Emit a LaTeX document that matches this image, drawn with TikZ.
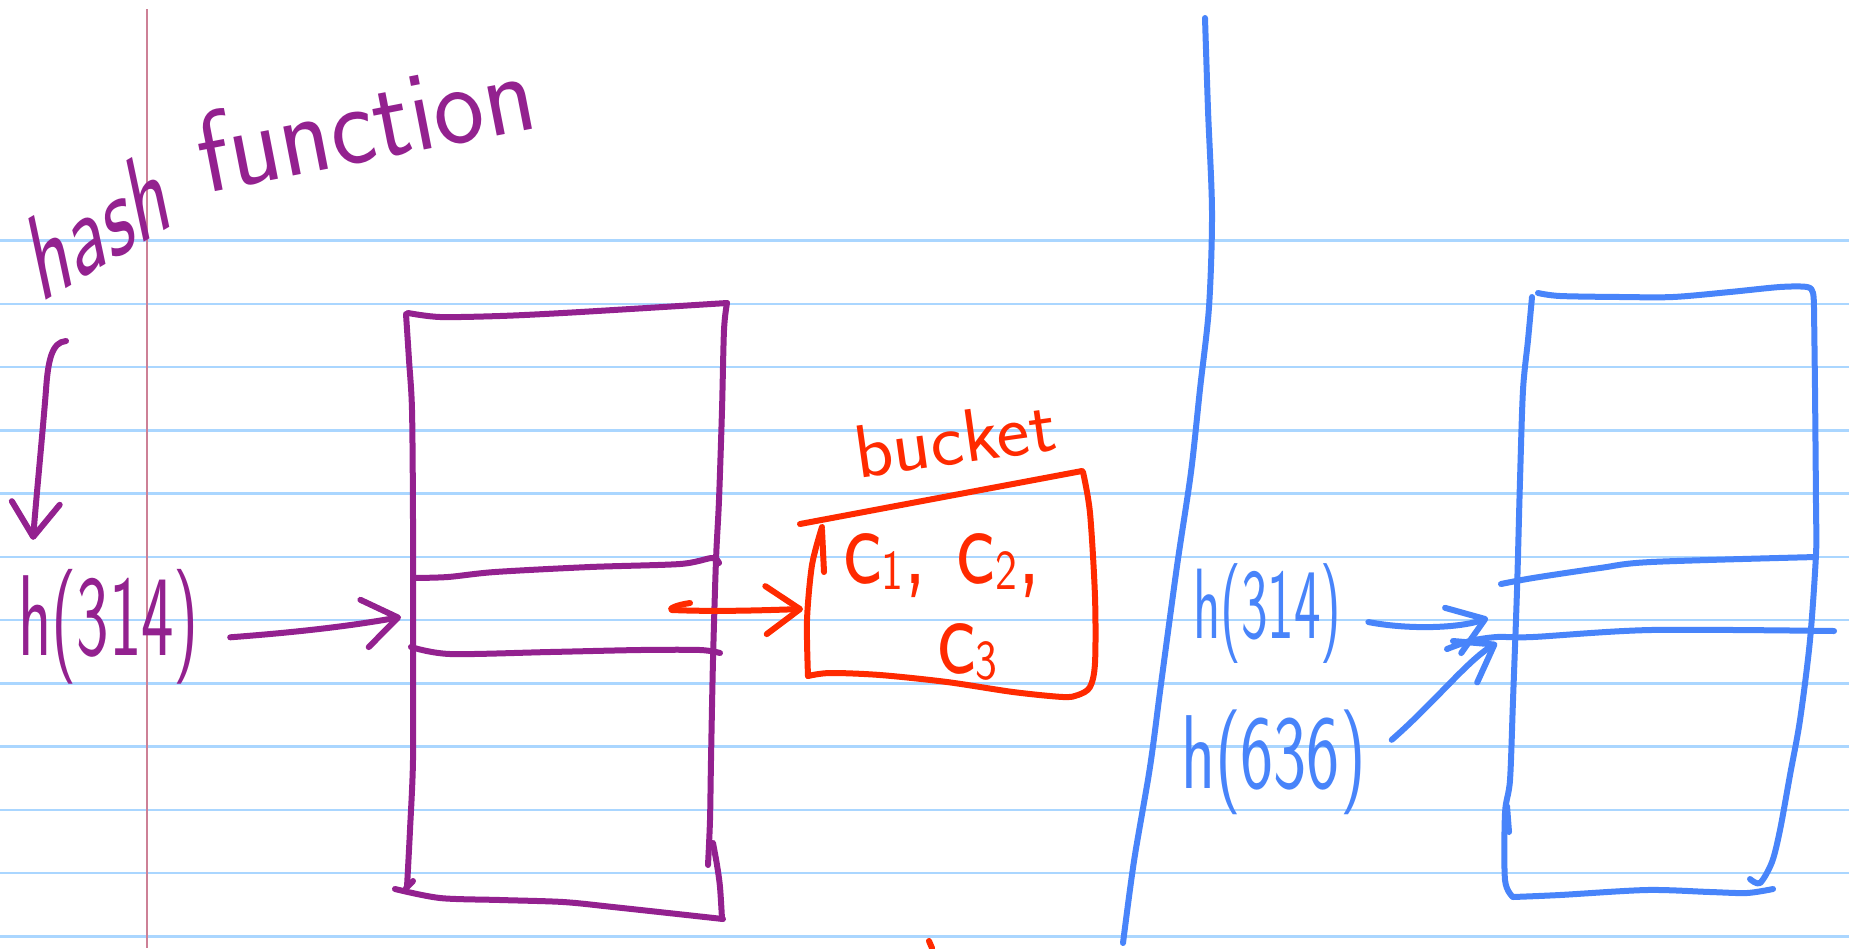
\documentclass[tikz,border=0pt]{standalone}
\usepackage{graphicx}
\usetikzlibrary{arrows.meta,calc}
\definecolor{purp}{RGB}{147,33,143}
\definecolor{penred}{RGB}{255,42,0}
\definecolor{penblue}{RGB}{72,132,250}
\definecolor{ruled}{RGB}{170,214,255}
\definecolor{marginpink}{RGB}{205,128,150}
\newcommand\subdig[1]{\raisebox{-0.06em}{\scalebox{0.5}{#1}}}
\newcommand\fsz[1]{\fontsize{#1}{#1}\selectfont}
\begin{document}
\begin{tikzpicture}[x=1pt,y=-1pt,
  pen/.style={line width=6pt,line cap=round,line join=round},
  handarrow/.style={-{Straight Barb[length=34pt,width=48pt,round]}},
  lbl/.style={inner sep=0pt,outer sep=0pt,font=\sffamily},
  sm/.style={smooth,tension=0.5}]
\fill[white] (0,0) rectangle (1849,948);
\useasboundingbox (0,0) rectangle (1849,948);
% ruled paper
\foreach \k in {0,...,11}
  \draw[ruled,line width=2.6pt] (0,{240.6+63.25*\k}) -- (1849,{240.6+63.25*\k});
\draw[marginpink,line width=2pt] (146.5,9) -- (146.5,948);

% ---------- purple table ----------
\draw[pen,purp] plot[sm] coordinates {(408,313) (440,317) (500,316) (563,313) (663,307) (727,303)};
\draw[pen,purp] plot[sm] coordinates {(406,314) (409,360) (412,410) (413,520) (413,650) (413,760) (410,830) (407,887)};
\draw[pen,purp] (406,888) -- (413,881);
\draw[pen,purp] plot[sm] coordinates {(395,889) (440,898) (500,900) (563,902) (613,907) (723,919)};
\draw[pen,purp] plot[sm] coordinates {(727,303) (724,330) (722,410) (719,500) (716,560) (713,660) (711,760) (710,820) (708,865)};
\draw[pen,purp] plot[sm] coordinates {(713,843) (717,865) (720,887) (722,919)};
\draw[pen,purp] plot[sm] coordinates {(413,578) (448,577) (495,572) (590,567) (680,564) (712,558) (719,563)};
\draw[pen,purp] plot[sm] coordinates {(411,647) (450,654) (550,652) (640,650) (700,650) (720,653)};

% ---------- red bucket box ----------
\draw[pen,penred] (800,524) -- (1082,471);
\draw[pen,penred] plot[sm] coordinates {(1083,472) (1090,513) (1095,597) (1095,663) (1090,687) (1078,695) (1063,697) (1013,692) (947,682) (880,675) (830,673) (808,676)};
\draw[pen,penred] plot[sm] coordinates {(808,676) (807,620) (812,565) (822,527)};
\draw[pen,penred] (822,530) -- (824,572);
\draw[pen,penred] (929,941) -- (932,948);

% ---------- blue divider ----------
\draw[pen,penblue] plot[sm] coordinates {(1205,18) (1208,110) (1212,212) (1209,307) (1200,389) (1191,472) (1177,566) (1161,684) (1150,767) (1134,861) (1123,943)};

% ---------- blue table ----------
\draw[pen,penblue] plot[sm] coordinates {(1538,293) (1560,296) (1620,297) (1673,297) (1730,292) (1780,287) (1807,287) (1813,293) (1814,310)};
\draw[pen,penblue] plot[sm] coordinates {(1814,310) (1815,390) (1816,507) (1816,554) (1810,640) (1800,720) (1790,775) (1780,830) (1772,862) (1760,883) (1750,879)};
\draw[pen,penblue] plot[sm] coordinates {(1532,297) (1528,340) (1523,390) (1520,480) (1517,590) (1513,700) (1510,780) (1505,813) (1505,880) (1513,897)};
\draw[pen,penblue] (1507,806) -- (1509,832);
\draw[pen,penblue] plot[sm] coordinates {(1513,897) (1560,895) (1647,890) (1710,892) (1747,893) (1773,889)};
\draw[pen,penblue] plot[sm] coordinates {(1501,584) (1533,578) (1600,568) (1651,562) (1816,557)};
\draw[pen,penblue] plot[sm] coordinates {(1447,649) (1470,641) (1497,637) (1533,637) (1651,630) (1834,631)};

% ---------- labels ----------
\node[lbl,text=purp,anchor=base west,rotate=12,yslant=0.33] (hf1) at (40,303) {\fsz{120}\scalebox{0.7}[1]{hash}};
\node[lbl,text=purp,anchor=base west,rotate=11] (hf2) at (205,193) {\fsz{115}\scalebox{0.93}[1]{function}};
\node[lbl,text=purp,anchor=base west] (hp) at (18,655) {\fsz{115}\scalebox{0.6}[1]{h(314)}};
\node[lbl,text=penred,anchor=base west,rotate=8] (bk) at (858,478) {\fsz{75}\scalebox{1.05}[1]{bucket}};
\node[lbl,text=penred,anchor=base west] (cl1) at (843,583) {\fsz{113}\scalebox{0.82}[1]{c\subdig{1}, c\subdig{2},}};
\node[lbl,text=penred,anchor=base west] (cl2) at (937,673) {\fsz{113}\scalebox{0.82}[1]{c\subdig{3}}};
\node[lbl,text=penblue,anchor=base west] (hb1) at (1193,638) {\fsz{100}\scalebox{0.565}[1]{h(314)}};
\node[lbl,text=penblue,anchor=base west] (hb2) at (1181,788) {\fsz{105}\scalebox{0.67}[1]{h(636)}};

% ---------- connector ends ----------
\coordinate (hfout) at (66,341);
\coordinate (prow) at (401,617);
\coordinate (ptabout) at (672,610);
\coordinate (rbox) at (803,609);
\coordinate (brow1) at (1488,618);
\coordinate (brow2) at (1497,643);

% ---------- connectors ----------
\draw[pen,purp,handarrow] (hfout) .. controls (52,342) and (48,360) .. (46,390) .. controls (42,440) and (36,500) .. ([xshift=15pt,yshift=29pt]hp.north west);
\draw[pen,purp,handarrow] ([xshift=31pt,yshift=-11pt]hp.east) .. controls (300,632) and (350,626) .. (prow);
\draw[pen,penred] (690,603) .. controls (676,605) and (668,609) .. (ptabout);
\draw[pen,penred,handarrow] (ptabout) .. controls (720,612) and (770,610) .. (rbox);
\draw[pen,penblue,handarrow] ([xshift=27pt,yshift=-9pt]hb1.east) .. controls (1410,630) and (1460,628) .. (brow1);
\draw[pen,penblue,handarrow] ([xshift=26pt,yshift=22pt]hb2.east) .. controls (1435,702) and (1468,660) .. (brow2);
\end{tikzpicture}
\end{document}
